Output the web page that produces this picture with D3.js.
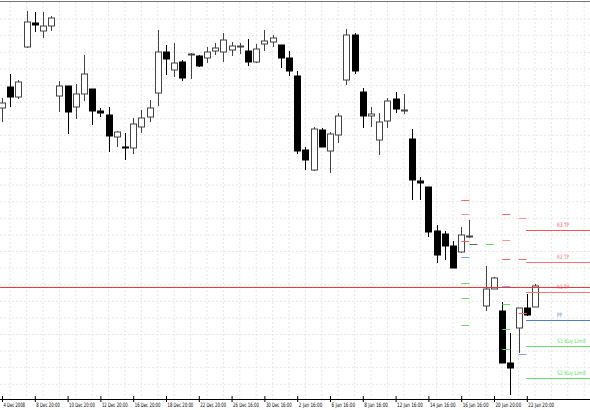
<!DOCTYPE html>
<html>
<head>
<meta charset="utf-8">
<script src="https://cdn.jsdelivr.net/npm/d3@7"></script>
<style>
body { margin: 0; background: #fff; }
text { font-family: "Liberation Sans Narrow", "DejaVu Sans Condensed", sans-serif; }
</style>
</head>
<body>
<script>
// price values (chart points), one entry per bar slot; null = no bar
const opens  = [292,313,303,353,377,369,374,304,314,293,306,311,289,285,263,253,252,273,283,307,348,330,338,346,344,342,349,348,350,354,349,338,356,358,355,342,324,250,230,270,249,265,320,365,308,284,260,279,301,290,261,219,213,169,166,154,148,164,null,94,111,89,37,72,92,93];
const highs  = [302,326,320,389,388,388,384,319,314,316,345,311,292,293,269,267,282,290,300,370,355,357,340,347,345,353,357,367,358,357,361,356,370,365,355,349,329,253,273,272,268,287,371,367,312,293,287,302,308,306,271,223,213,175,169,159,173,180,null,134,123,98,67,92,106,116];
const lows   = [278,293,301,352,368,362,369,288,266,281,299,275,283,248,253,240,246,267,278,294,325,323,319,321,333,337,345,338,344,346,334,337,349,353,332,324,246,230,229,253,227,257,315,326,272,273,245,272,287,286,200,200,163,137,140,132,147,162,null,89,111,37,5,47,84,93];
const closes = [297,303,318,378,375,374,382,314,288,306,326,289,287,264,268,252,276,282,292,348,341,337,322,346,334,348,352,360,354,354,338,351,359,362,342,329,249,240,271,253,266,284,365,329,284,286,278,299,291,290,220,217,168,145,154,132,165,164,null,111,122,37,32,92,85,114];

const tickSlots  = [0,4,8,12,16,20,24,28,32,36,40,44,48,52,56,60,64];
const tickLabels = ["4 Dec 2008","8 Dec 20:00","10 Dec 20:00","12 Dec 20:00","16 Dec 20:00","18 Dec 20:00","22 Dec 20:00","26 Dec 16:00","30 Dec 16:00","2 Jan 16:00","6 Jan 16:00","8 Jan 16:00","12 Jan 16:00","14 Jan 16:00","16 Jan 16:00","20 Jan 20:00","22 Jan 20:00"];

// short level dashes from earlier periods: slot, value, colour
const dashSlots  = [56.5,56.5,56.5,56.5,56.5,56.5,56.5,57.5,59.5,61.5,61.5,61.5,61.5,61.5,61.5,61.5,63.5,63.5,63.5,63.5];
const dashValues = [200,186,159,143,117,102,75,156,156,186,160,141,114,96,71,51,182,141,87,46];
const dashColors = ["#ff6060","#ff9090","#ff6060","#7fa0ff","#66dd66","#66dd66","#66dd66","#666","#66dd66","#ff6060","#ff9090","#ff6060","#7fa0ff","#66dd66","#66dd66","#66dd66","#ff9090","#ff6060","#ff6060","#7fa0ff"];

// current levels on the right
const levelNames  = ["R3 TP","R2 TP","R1 TP","PP","S1 Buy Limit","S2 Buy Limit"];
const levelValues = [170,138,108,80,54,22];
const levelColors = ["#ff5050","#ff7070","#ff7070","#4a7fe0","#66dd66","#66dd66"];
const priceLine = 113;

const W = 590, H = 410, axisY = 399;

const svg = d3.select("body").append("svg").attr("width", W).attr("height", H);

const x = d3.scaleLinear().domain([0, 65]).range([2, 535]);
const y = d3.scaleLinear().domain([0, 400]).range([400, 0]);

// grid
const grid = svg.append("g").attr("stroke", "#e6e6e6").attr("stroke-dasharray", "2,2");
d3.range(1, 72, 2).forEach(function(s){
    grid.append("line").attr("x1", x(s)).attr("x2", x(s)).attr("y1", 2).attr("y2", axisY);
});
d3.range(0, 24).forEach(function(k){
    var gy = 2.5 + 16.6 * (k + 1);
    if (gy < axisY) grid.append("line").attr("x1", 0).attr("x2", W).attr("y1", gy).attr("y2", gy);
});

svg.append("line").attr("x1", 0).attr("x2", W).attr("y1", 1.5).attr("y2", 1.5).attr("stroke", "#777");

// candles
const bars = d3.range(opens.length).filter(function(i){ return opens[i] !== null; });
const cg = svg.append("g");
bars.forEach(function(i){
    var up = closes[i] >= opens[i];
    var cx = Math.round(x(i)) + 0.5;
    cg.append("line").attr("x1", cx).attr("x2", cx)
      .attr("y1", y(highs[i])).attr("y2", y(lows[i]))
      .attr("stroke", up ? "#444" : "#000");
    var top = y(Math.max(opens[i], closes[i])), bot = y(Math.min(opens[i], closes[i]));
    cg.append("rect").attr("x", cx - 3).attr("width", 6)
      .attr("y", top).attr("height", Math.max(1, bot - top))
      .attr("fill", up ? "#fff" : "#000").attr("stroke", up ? "#444" : "#000");
});

// dashes
dashSlots.forEach(function(s, i){
    svg.append("line").attr("x1", x(s) - 4).attr("x2", x(s) + 4)
       .attr("y1", Math.round(y(dashValues[i])) + 0.5).attr("y2", Math.round(y(dashValues[i])) + 0.5)
       .attr("stroke", dashColors[i]);
});

// right levels
levelValues.forEach(function(v, i){
    var ly = Math.round(y(v));
    svg.append("rect").attr("x", x(63.9)).attr("width", W - x(63.9)).attr("y", ly).attr("height", 1)
       .style("fill", levelColors[i]);
    svg.append("text").attr("x", 557).attr("y", ly - 3).attr("font-size", 6)
       .attr("textLength", levelNames[i].length * 2.4).attr("lengthAdjust", "spacingAndGlyphs")
       .attr("fill", levelColors[i]).text(levelNames[i]);
});

// price line (current bid)
svg.append("line")
   .attr("x1", 0).attr("x2", W)
   .attr("y1", Math.round(y(priceLine)) + 0.5).attr("y2", Math.round(y(priceLine)) + 0.5)
   .attr("stroke", "#ff3030");

// x axis
const xAxis = d3.axisBottom(x).tickValues(tickSlots).tickSize(3)
    .tickFormat(function(d, i){ return tickLabels[i]; });
const ax = svg.append("g").attr("transform", "translate(0," + axisY + ")").call(xAxis);
ax.select(".domain").attr("d", "M0,0.5H" + W).attr("stroke", "#000");
ax.selectAll(".tick line").attr("y1", -3).attr("y2", 3).attr("stroke", "#000");
ax.selectAll(".tick text").attr("font-size", 6).attr("font-family", "Liberation Sans Narrow, sans-serif")
  .attr("fill", "#000")
  .attr("text-anchor", "start").attr("dx", 1).attr("y", 4)
  .attr("textLength", function(d, i){ return tickLabels[i].length * 2.15; })
  .attr("lengthAdjust", "spacingAndGlyphs");
</script>
</body>
</html>
